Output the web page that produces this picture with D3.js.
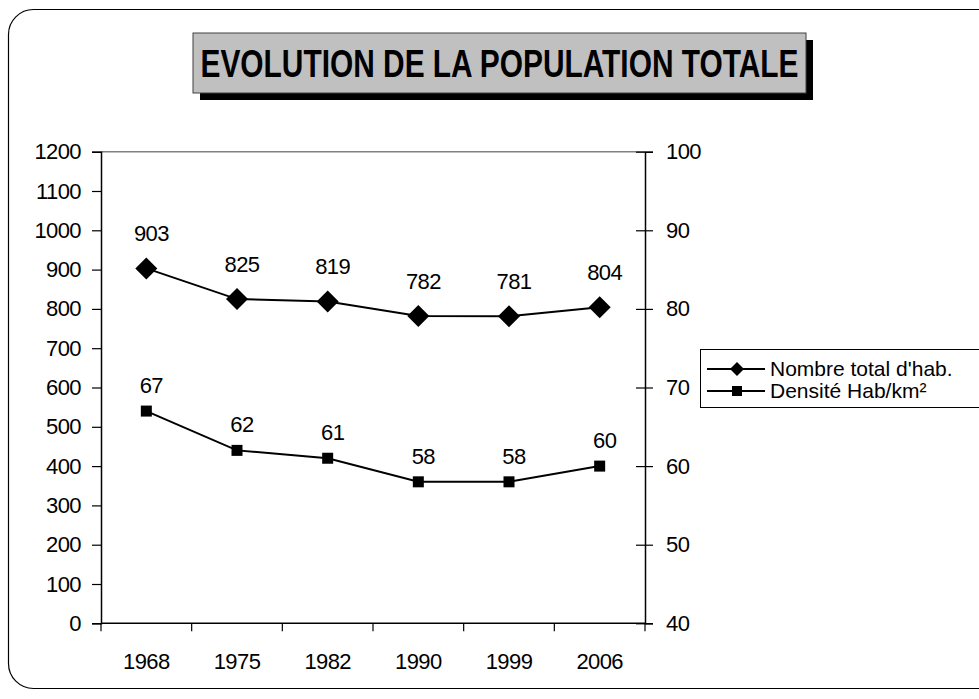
<!DOCTYPE html>
<html>
<head>
<meta charset="utf-8">
<script src="https://cdn.jsdelivr.net/npm/d3@7"></script>
<style>
  body { margin: 0; background: #fff; }
  svg { display: block; font-family: "Liberation Sans", Arial, sans-serif; }
  svg text { letter-spacing: -0.6px; }
</style>
</head>
<body>
<div id="vis"></div>
<script>
// data
const years = ['1968', '1975', '1982', '1990', '1999', '2006'];
const habitants = [903, 825, 819, 782, 781, 804];
const densite = [67, 62, 61, 58, 58, 60];
const leftTicks = [0, 100, 200, 300, 400, 500, 600, 700, 800, 900, 1000, 1100, 1200];
const rightTicks = [40, 50, 60, 70, 80, 90, 100];
const seriesNames = ["Nombre total d'hab.", 'Densité Hab/km²'];
const title = 'EVOLUTION DE LA POPULATION TOTALE';

const W = 979, H = 699;
const plot = { left: 101, right: 645, top: 151.7, bottom: 623.3 };
const fontSize = 22;

const svg = d3.select('#vis')
    .append('svg')
    .attr('width', W)
    .attr('height', H);

// outer frame (goes past the right edge)
svg.append('rect')
    .attr('x', 8.5).attr('y', 9.5)
    .attr('width', 1020).attr('height', 679)
    .attr('rx', 25).attr('ry', 25)
    .attr('fill', 'none')
    .attr('stroke', '#000')
    .attr('stroke-width', 1.2);

// title box with shadow
const tb = { x: 193, y: 33, w: 613, h: 60 };
svg.append('rect')
    .attr('x', tb.x + 7).attr('y', tb.y + 7)
    .attr('width', tb.w).attr('height', tb.h)
    .attr('fill', '#000');
svg.append('rect')
    .attr('x', tb.x).attr('y', tb.y)
    .attr('width', tb.w).attr('height', tb.h)
    .attr('fill', '#c0c0c0')
    .attr('stroke', '#404040')
    .attr('stroke-width', 1);
svg.append('text')
    .attr('x', tb.x + tb.w / 2)
    .attr('y', tb.y + 44)
    .attr('text-anchor', 'middle')
    .attr('font-size', 38)
    .attr('font-weight', 'bold')
    .attr('textLength', 598)
    .attr('lengthAdjust', 'spacingAndGlyphs')
    .style('letter-spacing', '0px')
    .text(title);

// scales
const xScale = d3.scaleBand()
    .domain(years)
    .range([plot.left, plot.right]);

const yLeft = d3.scaleLinear()
    .domain([0, 1200])
    .range([plot.bottom, plot.top]);

const yRight = d3.scaleLinear()
    .domain([40, 100])
    .range([plot.bottom, plot.top]);

// plot frame: top edge gray
svg.append('line')
    .attr('x1', plot.left).attr('x2', plot.right)
    .attr('y1', plot.top).attr('y2', plot.top)
    .attr('stroke', '#808080')
    .attr('stroke-width', 1.5);

// left axis
const gLeft = svg.append('g')
    .attr('transform', `translate(${plot.left},0)`)
    .call(d3.axisLeft(yLeft).tickValues(leftTicks).tickFormat(d3.format('d'))
        .tickSize(9).tickPadding(11));

// right axis, ticks cross the line
const gRight = svg.append('g')
    .attr('transform', `translate(${plot.right},0)`)
    .call(d3.axisRight(yRight).tickValues(rightTicks).tickFormat(d3.format('d'))
        .tickSize(8).tickPadding(13));
gRight.selectAll('.tick line').attr('x1', -9);

// bottom axis: labels centered, ticks on band edges
const gBottom = svg.append('g')
    .attr('transform', `translate(0,${plot.bottom})`)
    .call(d3.axisBottom(xScale).tickSize(0).tickPadding(46));
gBottom.selectAll('.tick text').attr('dy', 0);
const edges = years.map(d => xScale(d)).concat([plot.right]);
gBottom.selectAll('.edge')
    .data(edges)
    .join('line')
    .attr('class', 'edge')
    .attr('x1', d => d).attr('x2', d => d)
    .attr('y1', 0).attr('y2', 8)
    .attr('stroke', '#000')
    .attr('stroke-width', 1.2);

[gLeft, gRight, gBottom].forEach(g => {
    g.selectAll('path.domain').attr('stroke', '#000').attr('stroke-width', 1.5);
    g.selectAll('.tick line').attr('stroke', '#000').attr('stroke-width', 1.2);
    g.selectAll('.tick text')
        .attr('font-size', fontSize)
        .attr('font-family', '"Liberation Sans", Arial, sans-serif')
        .attr('fill', '#000');
});
gBottom.select('path.domain').remove();
gBottom.append('line')
    .attr('x1', plot.left).attr('x2', plot.right)
    .attr('stroke', '#000').attr('stroke-width', 1.5);

const cx = d => xScale(d) + xScale.bandwidth() / 2;

// series 1: habitants (left axis), diamonds
const line1 = d3.line()
    .x((d, i) => cx(years[i]))
    .y(d => yLeft(d));

svg.append('path')
    .datum(habitants)
    .attr('d', line1)
    .attr('fill', 'none')
    .attr('stroke', '#000')
    .attr('stroke-width', 2);

svg.selectAll('.diamond')
    .data(habitants)
    .join('path')
    .attr('class', 'diamond')
    .attr('d', 'M0,-11L11,0L0,11L-11,0Z')
    .attr('transform', (d, i) => `translate(${cx(years[i])},${yLeft(d)})`)
    .attr('fill', '#000');

svg.selectAll('.lab1')
    .data(habitants)
    .join('text')
    .attr('class', 'lab1')
    .attr('x', (d, i) => cx(years[i]) + 5)
    .attr('y', d => yLeft(d) - 27)
    .attr('text-anchor', 'middle')
    .attr('font-size', fontSize)
    .text(d => d);

// series 2: densite (right axis), squares
const line2 = d3.line()
    .x((d, i) => cx(years[i]))
    .y(d => yRight(d));

svg.append('path')
    .datum(densite)
    .attr('d', line2)
    .attr('fill', 'none')
    .attr('stroke', '#000')
    .attr('stroke-width', 2);

svg.selectAll('.square')
    .data(densite)
    .join('rect')
    .attr('class', 'square')
    .attr('x', (d, i) => cx(years[i]) - 5.5)
    .attr('y', d => yRight(d) - 5.5)
    .attr('width', 11).attr('height', 11)
    .attr('fill', '#000');

svg.selectAll('.lab2')
    .data(densite)
    .join('text')
    .attr('class', 'lab2')
    .attr('x', (d, i) => cx(years[i]) + 5)
    .attr('y', d => yRight(d) - 18)
    .attr('text-anchor', 'middle')
    .attr('font-size', fontSize)
    .text(d => d);

// legend
const lg = svg.append('g').attr('transform', 'translate(700,349)');
lg.append('rect')
    .attr('x', 0.5).attr('y', 0.5)
    .attr('width', 320).attr('height', 58)
    .attr('fill', '#fff')
    .attr('stroke', '#000');
const rows = lg.selectAll('.row')
    .data(seriesNames)
    .join('g')
    .attr('class', 'row')
    .attr('transform', (d, i) => `translate(0,${20 + i * 22})`);
rows.append('line')
    .attr('x1', 7).attr('x2', 65)
    .attr('stroke', '#000').attr('stroke-width', 2);
rows.append('path')
    .attr('d', (d, i) => i === 0 ? 'M0,-7L7,0L0,7L-7,0Z' : 'M-5,-5H5V5H-5Z')
    .attr('transform', 'translate(37,0)')
    .attr('fill', '#000');
rows.append('text')
    .attr('x', 70)
    .attr('dy', '0.35em')
    .attr('font-size', 21)
    .style('letter-spacing', '0px')
    .text(d => d);
</script>
</body>
</html>
